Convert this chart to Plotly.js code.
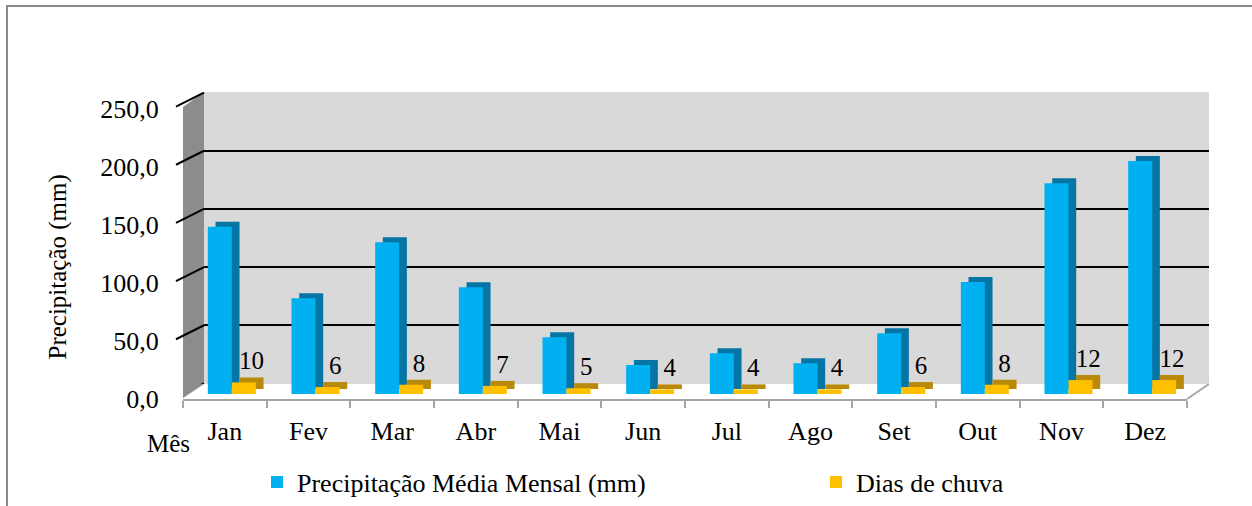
<!DOCTYPE html>
<html>
<head>
<meta charset="utf-8">
<script src="https://cdn.plot.ly/plotly-3.0.1.min.js"></script>
<style>
  html, body { margin: 0; padding: 0; background: #ffffff; }
  #chart { width: 1252px; height: 506px; }
</style>
</head>
<body>
<div id="chart"></div>
<script>
// ---- data ----
const months = ['Jan', 'Fev', 'Mar', 'Abr', 'Mai', 'Jun', 'Jul', 'Ago', 'Set', 'Out', 'Nov', 'Dez'];
const precipitation = [144.2, 82.5, 130.8, 92.0, 48.9, 25.0, 35.1, 26.5, 52.3, 96.6, 181.6, 200.9];
const rainDays = [10, 6, 8, 7, 5, 4, 4, 4, 6, 8, 12, 12];
const yTicks = [0, 50, 100, 150, 200, 250];
const seriesNames = ['Precipitação Média Mensal (mm)', 'Dias de chuva'];

// ---- geometry helpers (pixel -> paper, margins are 0) ----
const W = 1252, H = 506;
const X = p => p / W;
const Y = p => 1 - p / H;
const FONT = 'Liberation Serif';

const blue = '#00b0f0', blueSide = '#0575a5';
const yellow = '#ffc000', yellowSide = '#b8890a';

const traces = [
  // depth (shadow) faces, drawn first
  { type: 'bar', x: months, y: precipitation, xaxis: 'x2', yaxis: 'y2',
    marker: { color: blueSide }, showlegend: false, hoverinfo: 'skip' },
  { type: 'bar', x: months, y: rainDays, xaxis: 'x2', yaxis: 'y2',
    marker: { color: yellowSide }, showlegend: false, hoverinfo: 'skip',
    text: rainDays.map(String), textposition: 'outside', constraintext: 'none', cliponaxis: false,
    textfont: { family: FONT, size: 25, color: '#000' } },
  // front faces
  { type: 'bar', name: seriesNames[0], x: months, y: precipitation, xaxis: 'x3', yaxis: 'y3',
    marker: { color: blue }, legend: 'legend' },
  { type: 'bar', name: seriesNames[1], x: months, y: rainDays, xaxis: 'x3', yaxis: 'y3',
    marker: { color: yellow }, legend: 'legend2' },
  // empty trace so the front axis frame is drawn
  { type: 'scatter', x: [], y: [], xaxis: 'x4', yaxis: 'y4', showlegend: false, hoverinfo: 'skip' }
];

const shapes = [
  // outer chart border
  { type: 'path', xref: 'paper', yref: 'paper', layer: 'below',
    path: `M ${X(7)},${Y(506)} L ${X(7)},${Y(6)} L ${X(1252)},${Y(6)}`,
    line: { color: '#8a8a8a', width: 2 } },
  // back wall
  { type: 'rect', xref: 'paper', yref: 'paper', layer: 'below',
    x0: X(204), x1: X(1209), y0: Y(384), y1: Y(92),
    fillcolor: '#d9d9d9', line: { width: 0 } },
  // left side wall
  { type: 'path', xref: 'paper', yref: 'paper', layer: 'below',
    path: `M ${X(183)},${Y(107)} L ${X(204)},${Y(92)} L ${X(204)},${Y(384)} L ${X(183)},${Y(398)} Z`,
    fillcolor: '#8c8c8c', line: { width: 0 } },
  // floor right edge
  { type: 'line', xref: 'paper', yref: 'paper', layer: 'above',
    x0: X(1187), y0: Y(399), x1: X(1209), y1: Y(384),
    line: { color: '#a6a6a6', width: 2 } }
];
// gridline continuation across the side wall, anchored on the back-wall value axis
yTicks.forEach(v => {
  shapes.push({ type: 'line', xref: 'paper', yref: 'y', ysizemode: 'pixel', yanchor: v,
    x0: X(204), y0: 0, x1: X(176), y1: -14, layer: 'above',
    line: { color: '#000', width: 2 } });
});

const tickFont = { family: FONT, size: 26, color: '#000' };

const layout = {
  width: W, height: H,
  margin: { l: 0, r: 0, t: 0, b: 0 },
  paper_bgcolor: '#ffffff',
  plot_bgcolor: 'rgba(0,0,0,0)',
  separators: ', ',
  barmode: 'group',
  bargap: 0.426,
  bargroupgap: 0,
  font: { family: FONT, size: 26, color: '#000' },
  // back wall grid
  xaxis: { domain: [X(204), X(1209)], anchor: 'y', range: [-0.5, 11.5], visible: false },
  yaxis: { domain: [Y(384), Y(92)], anchor: 'x', range: [-0.5, 250.5], tickvals: yTicks,
           showgrid: true, gridcolor: '#000', gridwidth: 2, showticklabels: false,
           ticks: '', zeroline: false, showline: false },
  // depth faces
  xaxis2: { domain: [X(197.7), X(1201.7)], anchor: 'y2', type: 'category', visible: false },
  yaxis2: { domain: [Y(389), Y(99)], anchor: 'x2', range: [0, 250], visible: false },
  // front faces
  xaxis3: { domain: [X(190), X(1194)], anchor: 'y3', type: 'category', visible: false },
  yaxis3: { domain: [Y(394), Y(104)], anchor: 'x3', range: [0, 250], visible: false },
  // front axes with labels
  xaxis4: { domain: [X(183), X(1187)], anchor: 'y4', range: [-0.5, 11.5],
            tickvals: months.map((m, i) => i), ticktext: months,
            ticks: 'outside', ticklen: 8, tickcolor: 'rgba(0,0,0,0)',
            showline: true, linecolor: '#a6a6a6', linewidth: 2,
            showgrid: false, zeroline: false, tickfont: tickFont,
            minor: { ticks: 'outside', tick0: -0.5, dtick: 1, ticklen: 7,
                     tickcolor: '#a6a6a6', tickwidth: 2, showgrid: false } },
  yaxis4: { domain: [Y(399), Y(109)], anchor: 'x4', range: [0, 250], tickvals: yTicks,
            tickformat: '.1f', ticks: 'outside', ticklen: 18, tickcolor: 'rgba(0,0,0,0)',
            showgrid: false, zeroline: false, showline: false, tickfont: tickFont },
  shapes: shapes,
  annotations: [
    { text: 'Precipitação (mm)', xref: 'paper', yref: 'paper', x: X(57.5), y: Y(267),
      textangle: -90, showarrow: false, xanchor: 'center', yanchor: 'middle',
      font: { family: FONT, size: 25, color: '#000' } },
    { text: 'Mês', xref: 'paper', yref: 'paper', x: X(168), y: Y(443),
      showarrow: false, xanchor: 'center', yanchor: 'middle',
      font: { family: FONT, size: 25, color: '#000' } }
  ],
  showlegend: true,
  legend: { orientation: 'h', x: X(257), xanchor: 'left', y: Y(482), yanchor: 'middle',
            font: { family: FONT, size: 26, color: '#000' }, itemwidth: 30,
            bgcolor: 'rgba(0,0,0,0)' },
  legend2: { orientation: 'h', x: X(816), xanchor: 'left', y: Y(482), yanchor: 'middle',
            font: { family: FONT, size: 26, color: '#000' }, itemwidth: 30,
            bgcolor: 'rgba(0,0,0,0)' }
};

Plotly.newPlot('chart', traces, layout, { displayModeBar: false, staticPlot: true });
</script>
</body>
</html>
